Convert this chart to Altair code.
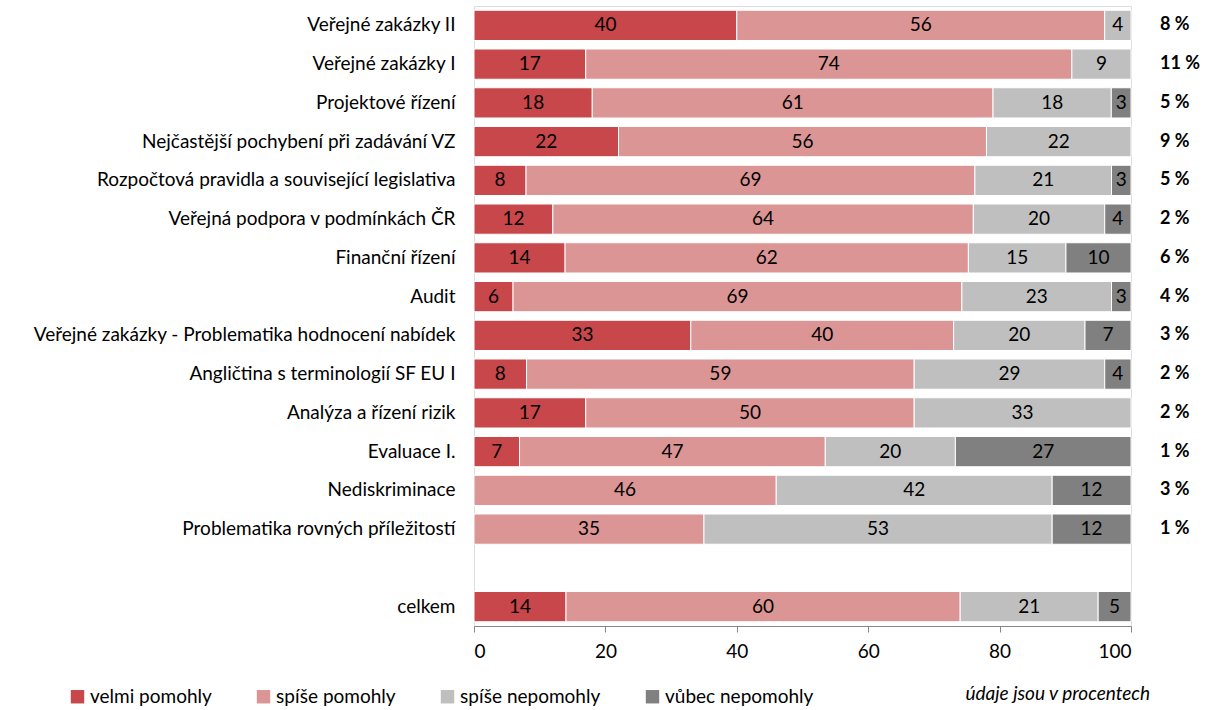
import altair as alt
import pandas as pd

courses = [
    "Veřejné zakázky II",
    "Veřejné zakázky I",
    "Projektové řízení",
    "Nejčastější pochybení při zadávání VZ",
    "Rozpočtová pravidla a související legislativa",
    "Veřejná podpora v podmínkách ČR",
    "Finanční řízení",
    "Audit",
    "Veřejné zakázky - Problematika hodnocení nabídek",
    "Angličtina s terminologií SF EU I",
    "Analýza a řízení rizik",
    "Evaluace I.",
    "Nediskriminace",
    "Problematika rovných příležitostí",
    "celkem",
]
velmi_pomohly = [40, 17, 18, 22, 8, 12, 14, 6, 33, 8, 17, 7, 0, 0, 14]
spise_pomohly = [56, 74, 61, 56, 69, 64, 62, 69, 40, 59, 50, 47, 46, 35, 60]
spise_nepomohly = [4, 9, 18, 22, 21, 20, 15, 23, 20, 29, 33, 20, 42, 53, 21]
vubec_nepomohly = [0, 0, 3, 0, 3, 4, 10, 3, 7, 4, 0, 27, 12, 12, 5]
no_answer = ["8 %", "11 %", "5 %", "9 %", "5 %", "2 %", "6 %", "4 %", "3 %", "2 %", "2 %", "1 %", "3 %", "1 %", ""]

categories = ["velmi pomohly", "spíše pomohly", "spíše nepomohly", "vůbec nepomohly"]
colors = ["#C8474A", "#DB9594", "#BFBFBF", "#808080"]
axis_ticks = [0, 20, 40, 60, 80, 100]

# spacer row separates the overall total from the courses
y_order = courses[:-1] + [" "] + courses[-1:]

rows = []
for i, c in enumerate(courses):
    for k, (cat, vals) in enumerate(zip(categories, [velmi_pomohly, spise_pomohly, spise_nepomohly, vubec_nepomohly])):
        rows.append({"course": c, "cat": cat, "order": k, "value": vals[i]})
df = pd.DataFrame(rows)
side = pd.DataFrame({"course": courses, "label": no_answer})

FONT = "Lato"
FS = 19
W, H = 657, 620

y_enc = alt.Y(
    "course:N",
    sort=y_order,
    scale=alt.Scale(domain=y_order, paddingInner=0.22, paddingOuter=0.11),
    axis=alt.Axis(title=None, ticks=False, domain=False, labelFontSize=FS,
                  labelFont=FONT, labelColor="#000000", labelPadding=19, labelLimit=470),
)

base = alt.Chart(df).transform_filter("datum.value > 0").transform_stack(
    stack="value", groupby=["course"], as_=["v0", "v1"], offset="normalize",
    sort=[alt.SortField("order", "ascending")],
).transform_calculate(mid="(datum.v0 + datum.v1) / 2")

bars = base.mark_bar(stroke="white", strokeWidth=1).encode(
    x=alt.X("v0:Q", scale=alt.Scale(domain=[0, 1], nice=False),
            axis=alt.Axis(title=None, values=[t / 100 for t in axis_ticks],
                          labelExpr="round(datum.value * 100)", grid=False,
                          domainColor="#868686", tickColor="#868686", tickSize=6,
                          labelFontSize=FS, labelFont=FONT, labelColor="#000000",
                          labelPadding=10)),
    x2="v1:Q",
    y=y_enc,
    color=alt.Color("cat:N", scale=alt.Scale(domain=categories, range=colors),
                    sort=categories,
                    legend=alt.Legend(title=None, orient="none", direction="horizontal",
                                      legendX=-406, legendY=H + 61, symbolType="square",
                                      symbolSize=180, symbolStrokeWidth=0,
                                      labelFontSize=FS, labelFont=FONT, labelColor="#000000",
                                      columnPadding=42, symbolOffset=0, labelOffset=3)),
)

labels = base.mark_text(fontSize=FS, font=FONT, color="#000000").encode(
    x="mid:Q",
    y=alt.Y("course:N", sort=y_order),
    text=alt.Text("value:Q"),
)

side_text = alt.Chart(side).mark_text(
    align="left", fontSize=FS - 1, font=FONT, fontWeight="bold", color="#000000"
).encode(
    x=alt.value(W + 29),
    y=alt.Y("course:N", sort=y_order),
    text="label:N",
)

note = alt.Chart(pd.DataFrame({"t": ["údaje jsou v procentech"]})).mark_text(
    align="right", fontSize=FS, font=FONT, fontStyle="italic", color="#000000"
).encode(x=alt.value(W + 19), y=alt.value(H + 68), text="t:N")

chart = alt.layer(bars, labels, side_text, note).properties(
    width=W, height=H,
    autosize=alt.AutoSizeParams(type="none"),
    padding={"left": 474, "top": 6, "right": 81, "bottom": 84},
).configure_view(stroke=None).configure(background="white")

chart.save("out.html", embed_options={"renderer": "svg", "actions": False})
